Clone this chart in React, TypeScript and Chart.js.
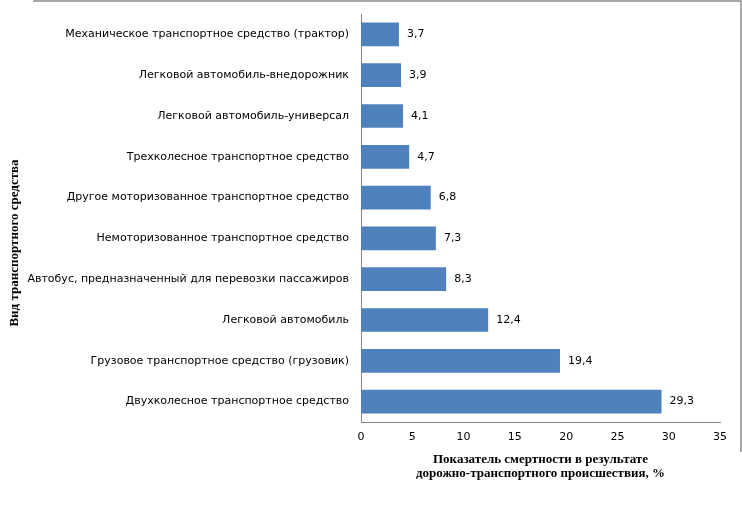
import { useEffect, useRef } from 'react';
import { Chart, registerables, type ChartConfiguration, type Plugin } from 'chart.js';

Chart.register(...registerables);

const CATEGORIES = [
  'Механическое транспортное средство (трактор)',
  'Легковой автомобиль-внедорожник',
  'Легковой автомобиль-универсал',
  'Трехколесное транспортное средство',
  'Другое моторизованное транспортное средство',
  'Немоторизованное транспортное средство',
  'Автобус, предназначенный для перевозки пассажиров',
  'Легковой автомобиль',
  'Грузовое транспортное средство (грузовик)',
  'Двухколесное транспортное средство',
];

const VALUES = [3.7, 3.9, 4.1, 4.7, 6.8, 7.3, 8.3, 12.4, 19.4, 29.3];

const X_TITLE = [
  'Показатель смертности в результате',
  'дорожно-транспортного происшествия, %',
];
const Y_TITLE = 'Вид транспортного средства';

const BAR_COLOR = '#4f81bd';
const AXIS_COLOR = '#868686';
const SANS = '"DejaVu Sans", Verdana, sans-serif';
const SERIF = '"Liberation Serif", "Times New Roman", serif';

const fmt = (v: number) => v.toFixed(1).replace('.', ',');

// Value labels at the bar ends, the vertical axis title and the cropped frame.
const extras: Plugin<'bar'> = {
  id: 'extras',
  afterDraw(chart) {
    const { ctx } = chart;
    ctx.save();

    ctx.strokeStyle = '#8c8c8c';
    ctx.lineWidth = 1.5;
    ctx.beginPath();
    ctx.moveTo(33, 1);
    ctx.lineTo(741, 1);
    ctx.lineTo(741, 452);
    ctx.stroke();

    ctx.font = `11px ${SANS}`;
    ctx.fillStyle = '#000';
    ctx.textAlign = 'left';
    ctx.textBaseline = 'middle';
    chart.getDatasetMeta(0).data.forEach((bar, i) => {
      ctx.fillText(fmt(VALUES[i]), bar.x + 8, bar.y);
    });

    ctx.translate(15, 243);
    ctx.rotate(-Math.PI / 2);
    ctx.font = `bold 13px ${SERIF}`;
    ctx.textAlign = 'center';
    ctx.fillText(Y_TITLE, 0, 0);
    ctx.restore();
  },
};

export default function App() {
  const canvasRef = useRef<HTMLCanvasElement | null>(null);

  useEffect(() => {
    const canvas = canvasRef.current;
    if (!canvas) return;

    const config: ChartConfiguration<'bar'> = {
      type: 'bar',
      data: {
        labels: CATEGORIES,
        datasets: [
          {
            data: VALUES,
            backgroundColor: BAR_COLOR,
            categoryPercentage: 1,
            barPercentage: 0.58,
          },
        ],
      },
      options: {
        indexAxis: 'y',
        animation: false,
        responsive: true,
        maintainAspectRatio: false,
        layout: { padding: { top: 14, right: 22, bottom: 33, left: 0 } },
        plugins: {
          legend: { display: false },
          tooltip: { enabled: false },
        },
        scales: {
          x: {
            min: 0,
            max: 35,
            ticks: {
              stepSize: 5,
              padding: 9,
              color: '#000',
              font: { family: SANS, size: 11 },
            },
            grid: { display: false, drawTicks: false },
            border: { display: true, color: AXIS_COLOR },
            title: {
              display: true,
              text: X_TITLE,
              color: '#000',
              font: { family: SERIF, size: 13, weight: 'bold', lineHeight: 1.1 },
              padding: { top: 0, bottom: 0 },
            },
            afterFit: (scale) => {
              scale.height = 59;
            },
          },
          y: {
            ticks: {
              padding: 12,
              color: '#000',
              font: { family: SANS, size: 11 },
            },
            grid: { display: false, drawTicks: false },
            border: { display: true, color: AXIS_COLOR },
            afterFit: (scale) => {
              scale.width = 361;
              // labels sit inside the category bands, so no extra room above/below
              scale.paddingTop = 0;
              scale.paddingBottom = 0;
            },
          },
        },
      },
      plugins: [extras],
    };

    const chart = new Chart(canvas, config);
    return () => chart.destroy();
  }, []);

  return (
    <div style={{ position: 'fixed', left: 0, top: 0, width: 742, height: 514, background: '#fff' }}>
      <canvas ref={canvasRef} />
    </div>
  );
}
